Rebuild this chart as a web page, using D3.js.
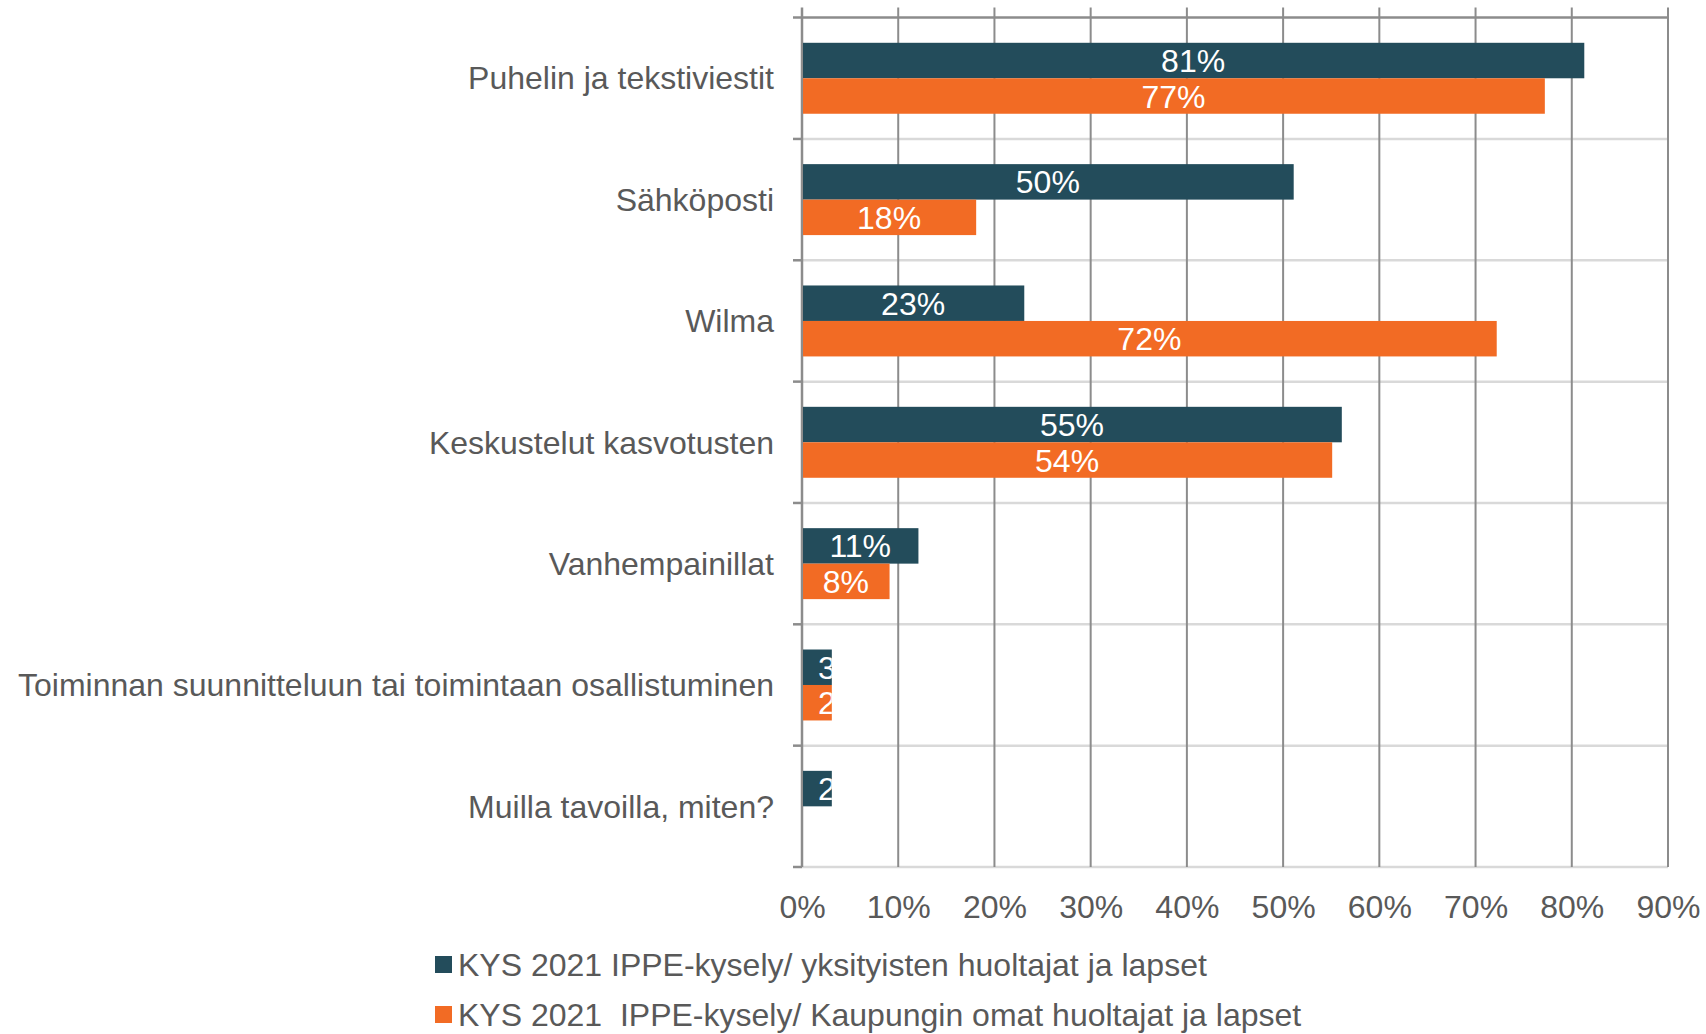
<!DOCTYPE html>
<html>
<head>
<meta charset="utf-8">
<script src="https://cdn.jsdelivr.net/npm/d3@7"></script>
<style>
  html, body { margin: 0; padding: 0; background: #fff; }
  svg text { font-family: "Liberation Sans", Arial, sans-serif; }
</style>
</head>
<body>
<div id="chart"></div>
<script>
// Categories, top to bottom
const categories = [
  'Puhelin ja tekstiviestit',
  'Sähköposti',
  'Wilma',
  'Keskustelut kasvotusten',
  'Vanhempainillat',
  'Toiminnan suunnitteluun tai toimintaan osallistuminen',
  'Muilla tavoilla, miten?'
];

const seriesNames = [
  'KYS 2021 IPPE-kysely/ yksityisten huoltajat ja lapset',
  'KYS 2021  IPPE-kysely/ Kaupungin omat huoltajat ja lapset'
];
const seriesColors = ['#234c5b', '#f26b24'];

// bar lengths (fraction)
const privateValues = [0.813, 0.511, 0.231, 0.561, 0.121, 0.031, 0.031];
const cityValues    = [0.772, 0.181, 0.722, 0.551, 0.091, 0.031, null];

// data labels as printed
const privateLabels = ['81%', '50%', '23%', '55%', '11%', '3%', '2%'];
const cityLabels    = ['77%', '18%', '72%', '54%', '8%', '2%', null];

const xTicks = [0, 0.1, 0.2, 0.3, 0.4, 0.5, 0.6, 0.7, 0.8, 0.9];

const width = 1706, height = 1034;
const margin = { top: 17.6, right: 38, bottom: 167, left: 802 };
const textColor = '#595959';
const fontSize = 32;

const svg = d3.select('#chart').append('svg')
  .attr('width', width)
  .attr('height', height);

const x = d3.scaleLinear()
  .domain([0, 0.9])
  .range([margin.left, width - margin.right]);

const y0 = d3.scaleBand()
  .domain(categories)
  .range([margin.top, height - margin.bottom])
  .padding(0);

const y1 = d3.scaleBand()
  .domain([0, 1])
  .range([0, y0.bandwidth()])
  .paddingInner(0)
  .paddingOuter(0.71);

const plotTop = margin.top, plotBottom = height - margin.bottom;

// horizontal gridlines at band boundaries (light)
const boundaries = categories.map(c => y0(c)).concat([plotBottom]);
svg.append('g').selectAll('line.hgrid')
  .data(boundaries.slice(1))
  .enter().append('line')
  .attr('x1', x(0)).attr('x2', x(0.9))
  .attr('y1', d => d).attr('y2', d => d)
  .attr('stroke', '#d9d9d9').attr('stroke-width', 2.5);

// vertical gridlines, extended above the top line as tick marks
svg.append('g').selectAll('line.vgrid')
  .data(xTicks.slice(1))
  .enter().append('line')
  .attr('x1', d => x(d)).attr('x2', d => x(d))
  .attr('y1', plotTop - 10).attr('y2', plotBottom)
  .attr('stroke', '#8c8c8c').attr('stroke-width', 2);

// top axis line
svg.append('line')
  .attr('x1', x(0) - 9).attr('x2', x(0.9))
  .attr('y1', plotTop).attr('y2', plotTop)
  .attr('stroke', '#8c8c8c').attr('stroke-width', 2.5);

// left axis line + ticks at band boundaries
svg.append('line')
  .attr('x1', x(0)).attr('x2', x(0))
  .attr('y1', plotTop - 10).attr('y2', plotBottom)
  .attr('stroke', '#8c8c8c').attr('stroke-width', 2.5);
svg.append('g').selectAll('line.ytick')
  .data(boundaries.slice(1))
  .enter().append('line')
  .attr('x1', x(0) - 9).attr('x2', x(0))
  .attr('y1', d => d).attr('y2', d => d)
  .attr('stroke', '#8c8c8c').attr('stroke-width', 2.5);

// x tick labels at bottom
const xAxis = d3.axisBottom(x)
  .tickValues(xTicks)
  .tickFormat(d3.format('.0%'))
  .tickSize(0)
  .tickPadding(0);
const xg = svg.append('g')
  .attr('transform', `translate(0,${plotBottom + 28})`)
  .call(xAxis);
xg.select('.domain').remove();
xg.selectAll('text')
  .attr('fill', textColor)
  .attr('font-size', fontSize)
  .attr('dy', '0.71em');

// category labels
svg.append('g').selectAll('text.cat')
  .data(categories)
  .enter().append('text')
  .attr('x', x(0) - 28)
  .attr('y', d => y0(d) + y0.bandwidth() / 2)
  .attr('dy', '0.35em')
  .attr('text-anchor', 'end')
  .attr('fill', textColor)
  .attr('font-size', fontSize)
  .text(d => d);

// bars
const rows = [];
categories.forEach((c, i) => {
  [privateValues[i], cityValues[i]].forEach((v, s) => {
    if (v == null) return;
    rows.push({
      cat: c, s: s, value: v,
      label: s === 0 ? privateLabels[i] : cityLabels[i]
    });
  });
});

const defs = svg.append('defs');
rows.forEach((d, i) => {
  d.id = 'clip' + i;
  defs.append('clipPath').attr('id', d.id)
    .append('rect')
    .attr('x', x(0))
    .attr('y', y0(d.cat) + y1(d.s))
    .attr('width', x(d.value) - x(0))
    .attr('height', y1.bandwidth());
});

const barG = svg.append('g');
barG.selectAll('rect.bar')
  .data(rows)
  .enter().append('rect')
  .attr('class', 'bar')
  .attr('x', x(0) + 1)
  .attr('y', d => y0(d.cat) + y1(d.s))
  .attr('width', d => x(d.value) - x(0) - 1)
  .attr('height', y1.bandwidth())
  .attr('fill', d => seriesColors[d.s]);

// data labels (clipped to the bar when they do not fit)
barG.selectAll('text.lbl')
  .data(rows)
  .enter().append('text')
  .attr('class', 'lbl')
  .attr('clip-path', d => `url(#${d.id})`)
  .attr('y', d => y0(d.cat) + y1(d.s) + y1.bandwidth() / 2)
  .attr('dy', '0.36em')
  .attr('fill', '#fff')
  .attr('font-size', fontSize)
  .text(d => d.label)
  .each(function (d) {
    const w = this.getComputedTextLength();
    const bw = x(d.value) - x(0);
    const t = d3.select(this);
    if (w <= bw) {
      t.attr('x', (x(0) + x(d.value)) / 2).attr('text-anchor', 'middle');
    } else {
      t.attr('x', x(0) + 16).attr('text-anchor', 'start');
    }
  });

// legend
const legend = svg.append('g')
  .attr('transform', 'translate(435,965)');
const li = legend.selectAll('g')
  .data(seriesNames)
  .enter().append('g')
  .attr('transform', (d, i) => `translate(0,${i * 50})`);
li.append('rect')
  .attr('x', 0).attr('y', -9)
  .attr('width', 17).attr('height', 17)
  .attr('fill', (d, i) => seriesColors[i]);
li.append('text')
  .attr('x', 23)
  .attr('dy', '0.35em')
  .attr('fill', textColor)
  .attr('font-size', fontSize)
  .style('white-space', 'pre')
  .text(d => d);
</script>
</body>
</html>
